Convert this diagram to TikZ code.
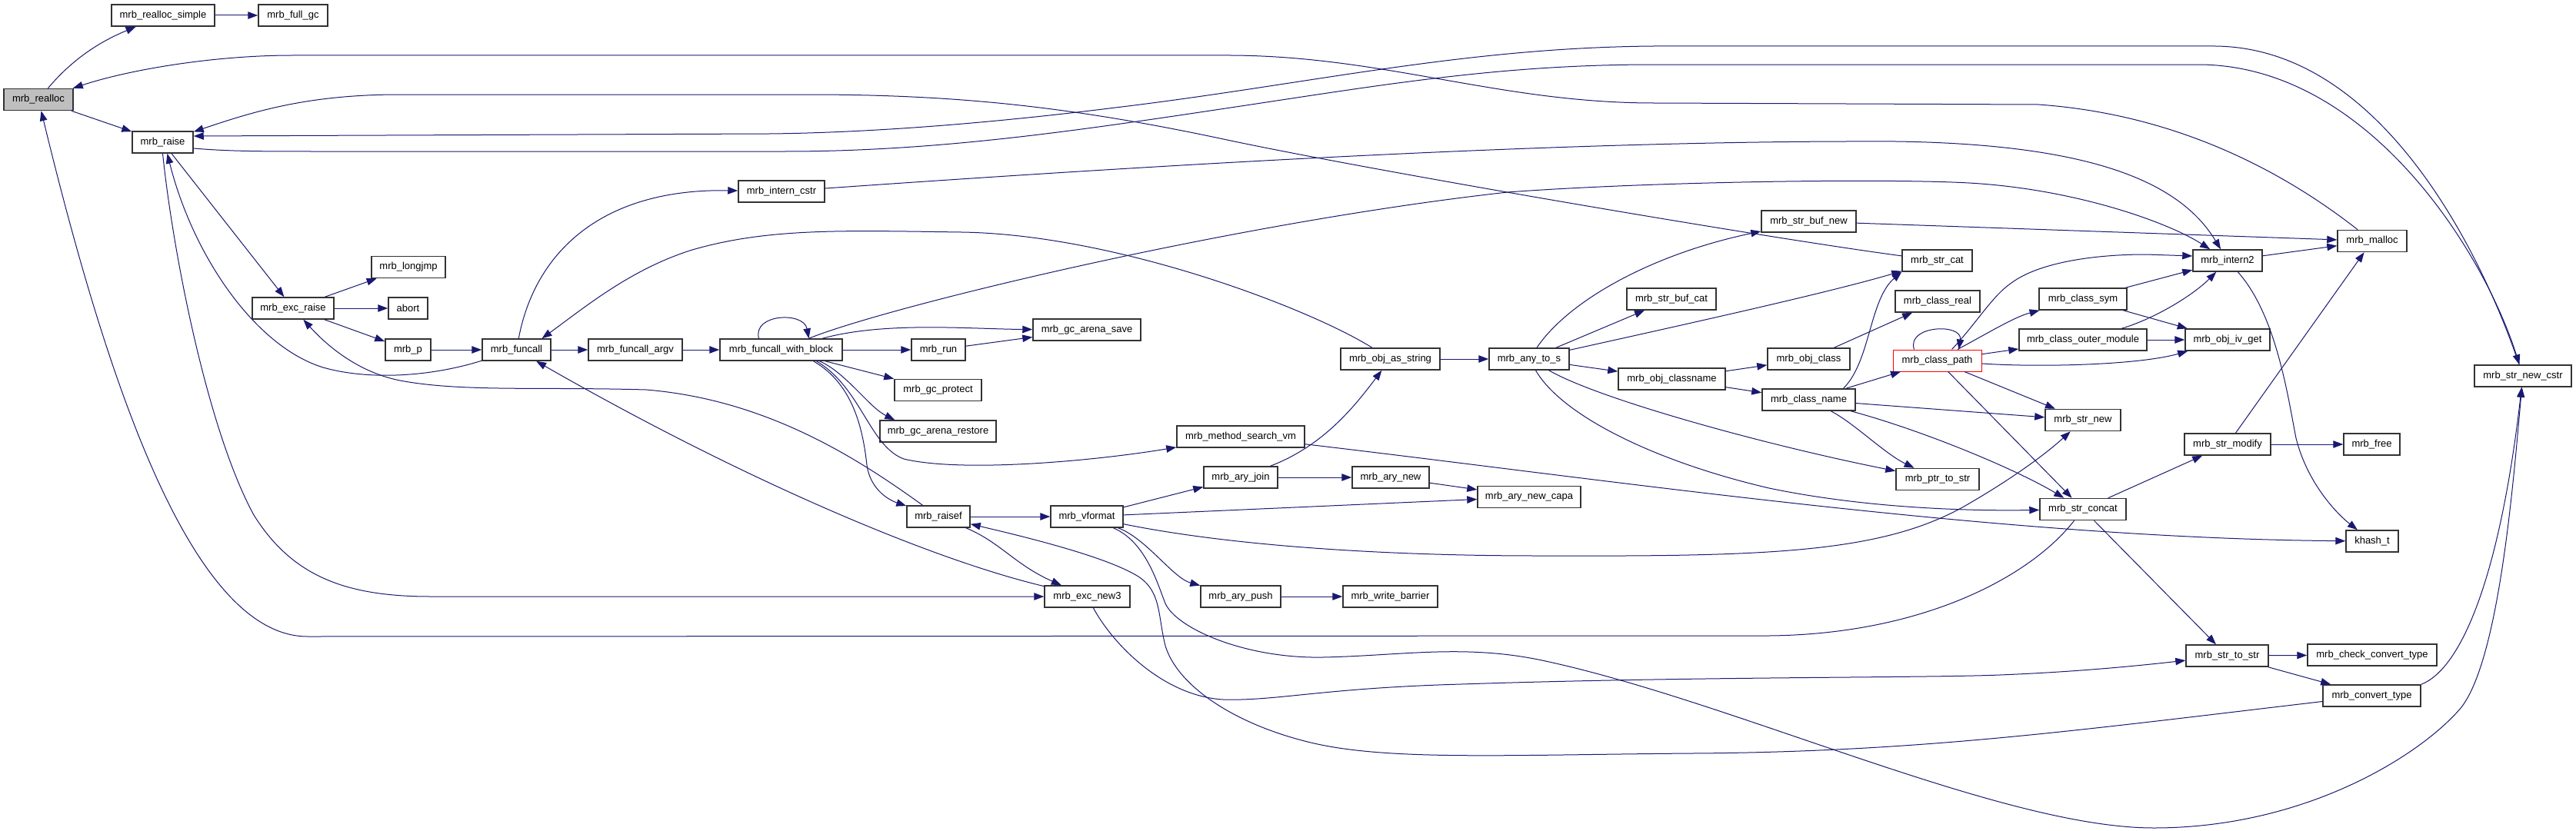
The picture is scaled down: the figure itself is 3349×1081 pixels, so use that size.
\documentclass[tikz,border=0pt]{standalone}
\usepackage{fontspec}
\setmainfont{Liberation Sans}
\usetikzlibrary{arrows.meta}
\definecolor{edgeblue}{HTML}{191970}
\definecolor{nodegray}{HTML}{BFBFBF}
\begin{document}
\begin{tikzpicture}[x=1pt,y=-1pt,
  fn/.style={draw=black!80, line width=1.5pt, fill=white, minimum height=28pt,
    inner xsep=3pt, inner ysep=0pt, font=\fontsize{13}{15}\selectfont, text=black},
  cedge/.style={draw=edgeblue, line width=1.0pt, -{Triangle[length=13pt,width=9.5pt]}}]
\fill[white] (0,0) rectangle (3349,1081);
\useasboundingbox (0,0) rectangle (3349,1081);
% nodes
\node[fn, fill=nodegray, minimum width=90pt] (realloc) at (50,129.5) {mrb\_realloc};
\node[fn, minimum width=134pt] (realloc_simple) at (212,20) {mrb\_realloc\_simple};
\node[fn, minimum width=90pt] (full_gc) at (381,20) {mrb\_full\_gc};
\node[fn, minimum width=79pt] (raise) at (211.5,185) {mrb\_raise};
\node[fn, minimum width=96pt] (longjmp) at (531,347.5) {mrb\_longjmp};
\node[fn, minimum width=106pt] (exc_raise) at (381,401) {mrb\_exc\_raise};
\node[fn, minimum width=51pt] (abort) at (530.5,401) {abort};
\node[fn, minimum width=59pt] (mrb_p) at (530.5,455) {mrb\_p};
\node[fn, minimum width=89pt] (funcall) at (671.5,455) {mrb\_funcall};
\node[fn, minimum width=112pt] (intern_cstr) at (1016,249) {mrb\_intern\_cstr};
\node[fn, minimum width=122pt] (funcall_argv) at (826,455) {mrb\_funcall\_argv};
\node[fn, minimum width=159pt] (fwb) at (1015.5,455) {mrb\_funcall\_with\_block};
\node[fn, minimum width=70pt] (run) at (1220,455) {mrb\_run};
\node[fn, minimum width=140pt] (gc_arena_save) at (1413,429) {mrb\_gc\_arena\_save};
\node[fn, minimum width=113pt] (gc_protect) at (1219.5,507.5) {mrb\_gc\_protect};
\node[fn, minimum width=151pt] (gc_arena_restore) at (1219.5,561) {mrb\_gc\_arena\_restore};
\node[fn, minimum width=82pt] (raisef) at (1220,672) {mrb\_raisef};
\node[fn, minimum width=94pt] (vformat) at (1413,672) {mrb\_vformat};
\node[fn, minimum width=111pt] (exc_new3) at (1413.5,776) {mrb\_exc\_new3};
\node[fn, minimum width=96pt] (ary_join) at (1613,621) {mrb\_ary\_join};
\node[fn, minimum width=104pt] (ary_push) at (1613,776) {mrb\_ary\_push};
\node[fn, minimum width=123pt] (write_barrier) at (1807.5,776) {mrb\_write\_barrier};
\node[fn, minimum width=100pt] (ary_new) at (1808,621) {mrb\_ary\_new};
\node[fn, minimum width=134pt] (ary_new_capa) at (1988,646.5) {mrb\_ary\_new\_capa};
\node[fn, minimum width=166pt] (method_search_vm) at (1613,568) {mrb\_method\_search\_vm};
\node[fn, minimum width=129pt] (obj_as_string) at (1807.5,467) {mrb\_obj\_as\_string};
\node[fn, minimum width=104pt] (any_to_s) at (1988,467) {mrb\_any\_to\_s};
\node[fn, minimum width=123pt] (str_buf_new) at (2351.5,288) {mrb\_str\_buf\_new};
\node[fn, minimum width=116pt] (str_buf_cat) at (2173,389) {mrb\_str\_buf\_cat};
\node[fn, minimum width=139pt] (obj_classname) at (2173.5,493) {mrb\_obj\_classname};
\node[fn, minimum width=107pt] (obj_class) at (2351.5,467) {mrb\_obj\_class};
\node[fn, minimum width=121pt] (class_name) at (2351.5,520) {mrb\_class\_name};
\node[fn, minimum width=91pt] (str_cat) at (2518.5,339) {mrb\_str\_cat};
\node[fn, minimum width=110pt] (class_real) at (2519,392) {mrb\_class\_real};
\node[fn, draw=red, line width=1.0pt, minimum width=115pt] (class_path) at (2518.5,469) {mrb\_class\_path};
\node[fn, minimum width=108pt] (ptr_to_str) at (2519,623.5) {mrb\_ptr\_to\_str};
\node[fn, minimum width=114pt] (class_sym) at (2708,389) {mrb\_class\_sym};
\node[fn, minimum width=166pt] (class_outer_module) at (2708,442) {mrb\_class\_outer\_module};
\node[fn, minimum width=98pt] (str_new) at (2708,546.5) {mrb\_str\_new};
\node[fn, minimum width=112pt] (str_concat) at (2708,662.5) {mrb\_str\_concat};
\node[fn, minimum width=90pt] (intern2) at (2896,339) {mrb\_intern2};
\node[fn, minimum width=110pt] (obj_iv_get) at (2896,442) {mrb\_obj\_iv\_get};
\node[fn, minimum width=112pt] (str_modify) at (2896,578) {mrb\_str\_modify};
\node[fn, minimum width=107pt] (str_to_str) at (2895.5,853) {mrb\_str\_to\_str};
\node[fn, minimum width=90pt] (malloc) at (3084,313.5) {mrb\_malloc};
\node[fn, minimum width=73pt] (free) at (3083.5,578) {mrb\_free};
\node[fn, minimum width=68pt] (khash_t) at (3084,704) {khash\_t};
\node[fn, minimum width=168pt] (check_convert_type) at (3084,852) {mrb\_check\_convert\_type};
\node[fn, minimum width=127pt] (convert_type) at (3083.5,905) {mrb\_convert\_type};
\node[fn, minimum width=126pt] (str_new_cstr) at (3280,489) {mrb\_str\_new\_cstr};
% edges
\draw[cedge] (realloc) .. controls (100,70) and (140,50) .. (realloc_simple);
\draw[cedge] (realloc_simple) -- (full_gc);
\draw[cedge] (realloc) -- (raise);
\draw[cedge] (raise) -- (exc_raise);
\draw[cedge] (exc_raise) -- (longjmp);
\draw[cedge] (exc_raise) -- (abort);
\draw[cedge] (exc_raise) -- (mrb_p);
\draw[cedge] (mrb_p) -- (funcall);
\draw[cedge] (funcall) -- (funcall_argv);
\draw[cedge] (funcall_argv) -- (fwb);
\draw[cedge] (fwb) -- (run);
\draw[cedge] (run) -- (gc_arena_save);
\draw[cedge] (fwb) .. controls (1150,418) and (1260,428) .. (gc_arena_save);
\draw[cedge] ([xshift=-29pt]fwb.north) .. controls (978,408) and (1045,405) .. ([xshift=36pt]fwb.north);
\draw[cedge] (fwb) -- (gc_protect);
\draw[cedge] ([xshift=50pt]fwb.south) .. controls (1100,485) and (1130,530) .. ([xshift=20pt]gc_arena_restore.north west);
\draw[cedge] ([xshift=42pt]fwb.south) .. controls (1110,500) and (1122,560) .. (1127,605) .. controls (1132,640) and (1160,652) .. (raisef);
\draw[cedge] ([xshift=46pt]fwb.south) .. controls (1120,505) and (1130,580) .. (1175,597) .. controls (1250,615) and (1420,600) .. (method_search_vm);
\draw[cedge] (funcall) .. controls (695,330) and (780,245) .. (intern_cstr);
\draw[cedge] (intern_cstr) .. controls (1500,215) and (2000,185) .. (2400,184) .. controls (2700,180) and (2830,230) .. (intern2);
\draw[cedge] (fwb) .. controls (1150,400) and (1600,290) .. (1960,250) .. controls (2150,236) and (2450,232) .. (2560,238) .. controls (2700,246) and (2820,290) .. (intern2);
\draw[cedge] (obj_as_string) .. controls (1700,400) and (1450,305) .. (1250,302) .. controls (1100,300) and (1000,296) .. (900,325) .. controls (820,350) and (760,400) .. ([xshift=33pt]funcall.north);
\draw[cedge] (funcall) .. controls (560,490) and (480,495) .. (420,478) .. controls (330,450) and (250,330) .. ([xshift=6pt]raise.south);
\draw[cedge] (raise.south) .. controls (225,330) and (270,560) .. (330,670) .. controls (380,750) and (450,776) .. (560,776) -- (exc_new3);
\draw[cedge] (exc_new3) .. controls (1200,725) and (950,615) .. (funcall);
\draw[cedge] (raisef) .. controls (1120,600) and (1000,520) .. (840,507) .. controls (700,503) and (600,510) .. (520,495) .. controls (470,485) and (430,455) .. (exc_raise);
\draw[cedge] (raisef) -- (vformat);
\draw[cedge] (raisef) .. controls (1300,705) and (1320,735) .. (exc_new3);
\draw[cedge] (convert_type) .. controls (2700,950) and (2500,978) .. (2200,980) .. controls (1950,982) and (1800,990) .. (1700,965) .. controls (1600,940) and (1530,890) .. (1515,840) .. controls (1505,800) and (1510,770) .. (1480,750) .. controls (1440,725) and (1340,700) .. (raisef);
\draw[cedge] (vformat) -- (ary_join);
\draw[cedge] (vformat) -- (ary_new_capa);
\draw[cedge] (vformat) .. controls (1600,710) and (1800,723) .. (2000,723) .. controls (2300,724) and (2450,720) .. (2560,655) .. controls (2620,620) and (2660,590) .. (str_new);
\draw[cedge] (vformat) .. controls (1490,700) and (1525,752) .. (ary_push);
\draw[cedge] (vformat) .. controls (1490,705) and (1505,760) .. (1515,785) .. controls (1530,818) and (1620,857) .. (1720,855) .. controls (1820,853) and (1900,838) .. (2000,858) .. controls (2250,910) and (2600,1077) .. (2800,1077) .. controls (3000,1077) and (3150,980) .. (3200,920) .. controls (3250,855) and (3268,620) .. (str_new_cstr);
\draw[cedge] (ary_join) -- (ary_new);
\draw[cedge] (ary_new) -- (ary_new_capa);
\draw[cedge] (ary_join) .. controls (1720,580) and (1760,530) .. (obj_as_string);
\draw[cedge] (ary_push) -- (write_barrier);
\draw[cedge] (method_search_vm) .. controls (2100,625) and (2600,700) .. (khash_t);
\draw[cedge] (obj_as_string) -- (any_to_s);
\draw[cedge] (any_to_s) .. controls (2040,390) and (2150,330) .. (str_buf_new);
\draw[cedge] (any_to_s) -- (str_buf_cat);
\draw[cedge] (any_to_s) .. controls (2200,420) and (2380,380) .. (str_cat);
\draw[cedge] (any_to_s) -- (obj_classname);
\draw[cedge] (any_to_s) .. controls (2080,520) and (2300,580) .. (ptr_to_str);
\draw[cedge] (any_to_s) .. controls (2030,540) and (2150,600) .. (2300,635) .. controls (2420,660) and (2550,665) .. (str_concat);
\draw[cedge] (obj_classname) -- (obj_class);
\draw[cedge] (obj_classname) -- (class_name);
\draw[cedge] (obj_class) -- (class_real);
\draw[cedge] ([xshift=45pt]class_name.north) .. controls (2432,470) and (2430,390) .. (str_cat.south west);
\draw[cedge] (class_name) -- (class_path);
\draw[cedge] (class_name) -- (str_new);
\draw[cedge] (class_name) .. controls (2410,550) and (2450,590) .. (ptr_to_str);
\draw[cedge] (class_name) .. controls (2500,560) and (2620,610) .. (str_concat);
\draw[cedge] ([xshift=-30pt]class_path.north) .. controls (2478,423) and (2552,420) .. ([xshift=28pt]class_path.north);
\draw[cedge] ([xshift=19pt]class_path.north) .. controls (2570,420) and (2590,385) .. (2615,368) .. controls (2650,342) and (2720,331) .. (2790,331) -- ([yshift=6pt]intern2.west);
\draw[cedge] (class_path) .. controls (2590,430) and (2620,412) .. (class_sym);
\draw[cedge] (class_path) -- (class_outer_module);
\draw[cedge] (class_path) .. controls (2650,478) and (2780,475) .. (obj_iv_get);
\draw[cedge] (class_path) -- (str_new);
\draw[cedge] (class_path) -- (str_concat);
\draw[cedge] (class_sym) -- (intern2);
\draw[cedge] (class_sym) -- (obj_iv_get);
\draw[cedge] (class_outer_module) .. controls (2800,415) and (2850,385) .. (intern2);
\draw[cedge] (class_outer_module) -- (obj_iv_get);
\draw[cedge] (intern2) -- (malloc);
\draw[cedge] (intern2) .. controls (2960,410) and (2975,520) .. (2985,570) .. controls (3000,630) and (3040,670) .. (khash_t);
\draw[cedge] (str_buf_new) -- (malloc);
\draw[cedge] (str_modify) -- (malloc);
\draw[cedge] (str_modify) -- (free);
\draw[cedge] (str_concat) -- (str_modify);
\draw[cedge] (str_concat) -- (str_to_str);
\draw[cedge] (str_concat) .. controls (2640,750) and (2500,825) .. (2300,827) -- (400,828) .. controls (250,828) and (140,500) .. (realloc);
\draw[cedge] (str_to_str) -- (check_convert_type);
\draw[cedge] (str_to_str) -- (convert_type);
\draw[cedge] (convert_type.north east) .. controls (3200,870) and (3250,750) .. (str_new_cstr);
\draw[cedge] (exc_new3) .. controls (1445,835) and (1510,905) .. (1590,910) .. controls (1660,912) and (1720,895) .. (1900,890) .. controls (2200,880) and (2500,882) .. (2600,878) .. controls (2700,874) and (2780,866) .. (str_to_str);
\draw[cedge] (malloc) .. controls (2990,240) and (2850,150) .. (2650,136) -- (2150,134) .. controls (1950,134) and (1800,73) .. (1600,72) -- (380,72) .. controls (280,72) and (170,90) .. (realloc);
\draw[cedge] (str_new_cstr) .. controls (3230,340) and (3100,62) .. (2880,60) -- (2150,60) .. controls (1900,62) and (1700,110) .. (1450,140) .. controls (1250,165) and (1100,173) .. (1000,174) -- ([yshift=8pt]raise.east);
\draw[cedge] ([yshift=-8pt]raise.east) .. controls (300,197) and (340,197) .. (420,197) -- (1020,197) .. controls (1220,197) and (1400,170) .. (1600,140) .. controls (1800,110) and (1950,84) .. (2150,84) -- (2860,84) .. controls (3080,86) and (3230,330) .. (str_new_cstr);
\draw[cedge] (str_cat) .. controls (2300,310) and (1800,225) .. (1600,183) .. controls (1400,140) and (1250,123) .. (1050,123) -- (520,123) .. controls (400,123) and (330,145) .. (raise);
\end{tikzpicture}
\end{document}
